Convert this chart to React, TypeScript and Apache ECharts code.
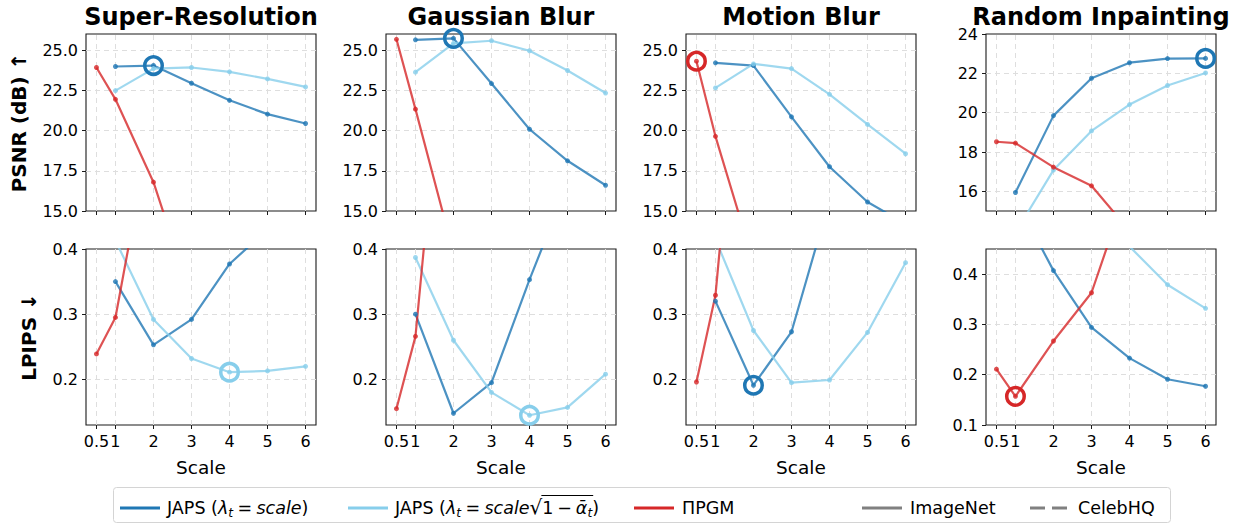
import React, { useEffect, useRef } from "react";
import * as echarts from "echarts";

const FONT = '"DejaVu Sans", sans-serif';

const scales = [0.5, 1, 2, 3, 4, 5, 6];
const tasks = ["Super-Resolution", "Gaussian Blur", "Motion Blur", "Random Inpainting"];

// PSNR (dB), one row per task, indexed like `scales` (null = not run / not needed)
const psnrJapsScale = [
  [null, 23.98, 24.04, 22.94, 21.88, 21.02, 20.44],
  [null, 25.64, 25.73, 22.92, 20.08, 18.12, 16.6],
  [null, 24.21, 24.04, 20.85, 17.75, 15.56, 14.2],
  [null, 15.94, 19.85, 21.75, 22.54, 22.75, 22.76],
];
const psnrJapsAlpha = [
  [null, 22.48, 23.85, 23.92, 23.65, 23.21, 22.71],
  [null, 23.63, 25.42, 25.58, 24.96, 23.73, 22.33],
  [null, 22.65, 24.14, 23.85, 22.25, 20.38, 18.56],
  [null, 13.9, 17.08, 19.07, 20.41, 21.38, 22.02],
];
const psnrPgm = [
  [23.92, 21.94, 16.79, 9.6, null, null, null],
  [25.67, 21.33, 12.4, null, null, null, null],
  [24.31, 19.64, 11.8, null, null, null, null],
  [18.52, 18.45, 17.23, 16.28, 14.0, null, null],
];

// LPIPS, same layout
const lpipsJapsScale = [
  [null, 0.35, 0.253, 0.292, 0.377, 0.43, null],
  [null, 0.3, 0.148, 0.195, 0.353, 0.5, null],
  [null, 0.32, 0.191, 0.273, 0.475, null, null],
  [null, 0.55, 0.407, 0.294, 0.233, 0.191, 0.177],
];
const lpipsJapsAlpha = [
  [null, 0.413, 0.292, 0.232, 0.211, 0.213, 0.22],
  [null, 0.387, 0.26, 0.18, 0.145, 0.157, 0.208],
  [null, 0.415, 0.275, 0.195, 0.199, 0.272, 0.379],
  [null, null, null, null, 0.455, 0.379, 0.332],
];
const lpipsPgm = [
  [0.239, 0.295, 0.61, null, null, null, null],
  [0.155, 0.266, 0.88, null, null, null, null],
  [0.196, 0.329, 0.96, null, null, null, null],
  [0.211, 0.157, 0.267, 0.363, 0.585, null, null],
];

// best configuration per task (circled): method key and scale
const psnrBest: [string, number][] = [["japsScale", 2], ["japsScale", 2], ["pgm", 0.5], ["japsScale", 6]];
const lpipsBest: [string, number][] = [["japsAlpha", 4], ["japsAlpha", 4], ["japsScale", 2], ["pgm", 1]];

// axis ticks and ranges
const psnrTicks = [15, 17.5, 20, 22.5, 25];
const psnrTicksInpaint = [16, 18, 20, 22, 24];
const lpipsTicks = [0.2, 0.3, 0.4];
const lpipsTicksInpaint = [0.1, 0.2, 0.3, 0.4];
const psnrRange = [15, 26];
const psnrRangeInpaint = [15, 24];
const lpipsRange = [0.13, 0.4];
const lpipsRangeInpaint = [0.1, 0.45];
const xRange = [0.225, 6.275];

const COLORS: Record<string, string> = {
  japsScale: "#1f77b4",
  japsAlpha: "#87ceeb",
  pgm: "#d62728",
};

const COL_LEFT = [86, 386, 686, 986];
const PANEL_W = 230;
const ROW_TOP = [34, 249];
const ROW_H = [177, 176];

type Tok = { t?: string; italic?: boolean; sub?: boolean; scale?: number; dy?: number; sp?: number; bar?: "start" | "end" };

function layoutMath(tokens: Tok[], x0: number, y: number, base: number) {
  const ctx = document.createElement("canvas").getContext("2d")!;
  const els: any[] = [];
  let x = x0;
  let barStart = 0;
  tokens.forEach((tk) => {
    if (tk.sp !== undefined) {
      x += tk.sp * base;
      return;
    }
    if (tk.bar === "start") {
      barStart = x;
      return;
    }
    if (tk.bar === "end") {
      els.push({
        type: "line",
        shape: { x1: barStart - 1, y1: y - 12.5, x2: x + 1, y2: y - 12.5 },
        style: { stroke: "#000", lineWidth: 1.1 },
      });
      return;
    }
    const size = tk.sub ? base * 0.7 : base * (tk.scale ?? 1);
    const fs = tk.italic ? "italic" : "normal";
    ctx.font = `${fs} ${size}px "DejaVu Sans"`;
    const w = ctx.measureText(tk.t!).width;
    els.push({
      type: "text",
      x,
      y: y + (tk.sub ? base * 0.3 : 0) + (tk.dy ?? 0),
      style: {
        text: tk.t,
        fontSize: size,
        fontStyle: fs,
        fontFamily: FONT,
        fill: "#000",
        align: "left",
        verticalAlign: "middle",
      },
    });
    x += w;
  });
  return els;
}

function buildLegend() {
  const y = 508;
  const base = 17.5;
  const els: any[] = [
    {
      type: "rect",
      shape: { x: 113.5, y: 487.5, width: 1057, height: 35, r: 3 },
      style: { fill: "#fff", stroke: "#d4d4d4", lineWidth: 1 },
    },
  ];
  const handle = (x: number, color: string, dash?: number[]) => ({
    type: "line",
    shape: { x1: x, y1: y, x2: x + 40, y2: y },
    style: { stroke: color, lineWidth: 3, lineDash: dash },
  });
  els.push(handle(120, COLORS.japsScale));
  els.push(
    ...layoutMath(
      [
        { t: "JAPS" }, { sp: 0.318 }, { t: "(" }, { t: "λ", italic: true }, { t: "t", italic: true, sub: true },
        { sp: 0.25 }, { t: "=" }, { sp: 0.25 }, { t: "scale", italic: true }, { t: ")" },
      ],
      167, y, base
    )
  );
  els.push(handle(348, COLORS.japsAlpha));
  els.push(
    ...layoutMath(
      [
        { t: "JAPS" }, { sp: 0.318 }, { t: "(" }, { t: "λ", italic: true }, { t: "t", italic: true, sub: true },
        { sp: 0.25 }, { t: "=" }, { sp: 0.25 }, { t: "scale", italic: true },
        { t: "√", scale: 1.15, dy: -1 }, { bar: "start" },
        { t: "1" }, { sp: 0.22 }, { t: "−" }, { sp: 0.22 }, { t: "ᾱ", italic: true }, { t: "t", italic: true, sub: true },
        { bar: "end" }, { t: ")" },
      ],
      395, y, base
    )
  );
  els.push(handle(634, COLORS.pgm));
  els.push(...layoutMath([{ t: "ΠPGM" }], 682, y, base));
  els.push(handle(862, "#808080"));
  els.push(...layoutMath([{ t: "ImageNet" }], 910, y, base));
  els.push(handle(1030, "#808080", [15, 7]));
  els.push(...layoutMath([{ t: "CelebHQ" }], 1078, y, base));
  return els;
}

function pairs(values: (number | null)[]) {
  return scales.map((s, i) => [s, values[i]]).filter((d) => d[1] !== null);
}

function buildOption() {
  const grid: any[] = [];
  const xAxis: any[] = [];
  const yAxis: any[] = [];
  const series: any[] = [];
  const graphic: any[] = [];

  tasks.forEach((task, c) => {
    graphic.push({
      type: "text",
      x: COL_LEFT[c] + PANEL_W / 2,
      y: 16.5,
      style: {
        text: task,
        fontSize: 24,
        fontWeight: "bold",
        fontFamily: FONT,
        fill: "#000",
        align: "center",
        verticalAlign: "middle",
      },
    });
  });

  for (let r = 0; r < 2; r++) {
    for (let c = 0; c < 4; c++) {
      const p = r * 4 + c;
      const inpaint = c === 3;
      const ticks = r === 0 ? (inpaint ? psnrTicksInpaint : psnrTicks) : inpaint ? lpipsTicksInpaint : lpipsTicks;
      const range = r === 0 ? (inpaint ? psnrRangeInpaint : psnrRange) : inpaint ? lpipsRangeInpaint : lpipsRange;
      const fmt = (v: number) => (r === 0 && inpaint ? String(Math.round(v)) : Number(v).toFixed(1));

      grid.push({
        left: COL_LEFT[c],
        top: ROW_TOP[r],
        width: PANEL_W,
        height: ROW_H[r],
        show: true,
        backgroundColor: "#fff",
        borderColor: "#1a1a1a",
        borderWidth: 1.1,
        containLabel: false,
        outerBoundsMode: "none",
      });

      xAxis.push({
        type: "value",
        gridIndex: p,
        min: xRange[0],
        max: xRange[1],
        axisLine: { show: false },
        axisTick: { show: true, customValues: scales, length: 4, lineStyle: { color: "#1a1a1a", width: 1 } },
        axisLabel: {
          show: r === 1,
          customValues: scales,
          formatter: (v: number) => String(v),
          fontSize: 16,
          fontFamily: FONT,
          color: "#000",
          margin: 8,
          hideOverlap: false,
        },
        splitLine: { show: false },
        name: r === 1 ? "Scale" : "",
        nameLocation: "middle",
        nameGap: 32.5,
        nameTextStyle: { fontSize: 18.5, fontFamily: FONT, color: "#000" },
      });

      yAxis.push({
        type: "value",
        gridIndex: p,
        min: range[0],
        max: range[1],
        axisLine: { show: false },
        axisTick: { show: true, customValues: ticks, length: 4, lineStyle: { color: "#1a1a1a", width: 1 } },
        axisLabel: {
          customValues: ticks,
          formatter: fmt,
          fontSize: 16,
          fontFamily: FONT,
          color: "#000",
          margin: 8,
          hideOverlap: false,
        },
        splitLine: { show: false },
        name: c === 0 ? (r === 0 ? "PSNR (dB) ↑" : "LPIPS ↓") : "",
        nameLocation: "middle",
        nameRotate: 90,
        nameGap: r === 0 ? 57 : 47.5,
        nameTextStyle: { fontSize: 20, fontWeight: "bold", fontFamily: FONT, color: "#000" },
      });

      // dashed grid lines at every tick
      const gridLineData = [
        ...scales.map((s) => ({ xAxis: s })),
        ...ticks.filter((t) => t > range[0] + 1e-9 && t < range[1] - 1e-9).map((t) => ({ yAxis: t })),
      ];
      series.push({
        type: "line",
        xAxisIndex: p,
        yAxisIndex: p,
        data: [],
        silent: true,
        z: 1,
        markLine: {
          silent: true,
          z: 1,
          animation: false,
          symbol: ["none", "none"],
          label: { show: false },
          emphasis: { disabled: true },
          lineStyle: { color: "#dedede", width: 1, type: [5, 4] },
          data: gridLineData,
        },
      });

      const source: Record<string, (number | null)[]> =
        r === 0
          ? { japsScale: psnrJapsScale[c], japsAlpha: psnrJapsAlpha[c], pgm: psnrPgm[c] }
          : { japsScale: lpipsJapsScale[c], japsAlpha: lpipsJapsAlpha[c], pgm: lpipsPgm[c] };

      ["japsScale", "japsAlpha", "pgm"].forEach((key) => {
        series.push({
          type: "line",
          xAxisIndex: p,
          yAxisIndex: p,
          data: pairs(source[key]),
          clip: true,
          silent: true,
          z: 2,
          symbol: "circle",
          symbolSize: 5,
          showSymbol: true,
          lineStyle: { color: COLORS[key], width: 2.2, opacity: 0.8 },
          itemStyle: { color: COLORS[key], opacity: 0.8 },
          emphasis: { disabled: true },
        });
      });

      const [bestKey, bestScale] = (r === 0 ? psnrBest : lpipsBest)[c];
      const bestValue = source[bestKey][scales.indexOf(bestScale)];
      series.push({
        type: "scatter",
        xAxisIndex: p,
        yAxisIndex: p,
        data: [[bestScale, bestValue]],
        clip: false,
        silent: true,
        z: 5,
        symbol: "circle",
        symbolSize: 17.5,
        itemStyle: { color: "rgba(0,0,0,0)", borderColor: COLORS[bestKey], borderWidth: 3.5, opacity: 1 },
        emphasis: { disabled: true },
      });
    }
  }

  graphic.push(...buildLegend());

  return {
    animation: false,
    backgroundColor: "#fff",
    grid,
    xAxis,
    yAxis,
    series,
    graphic,
  };
}

export default function App() {
  const ref = useRef<HTMLDivElement>(null);
  useEffect(() => {
    if (!ref.current) return;
    const chart = echarts.init(ref.current, null, { renderer: "svg" });
    chart.setOption(buildOption() as any);
    return () => chart.dispose();
  }, []);
  return (
    <div
      ref={ref}
      style={{ position: "fixed", left: 0, top: 0, width: 1241, height: 525, background: "#fff" }}
    />
  );
}
